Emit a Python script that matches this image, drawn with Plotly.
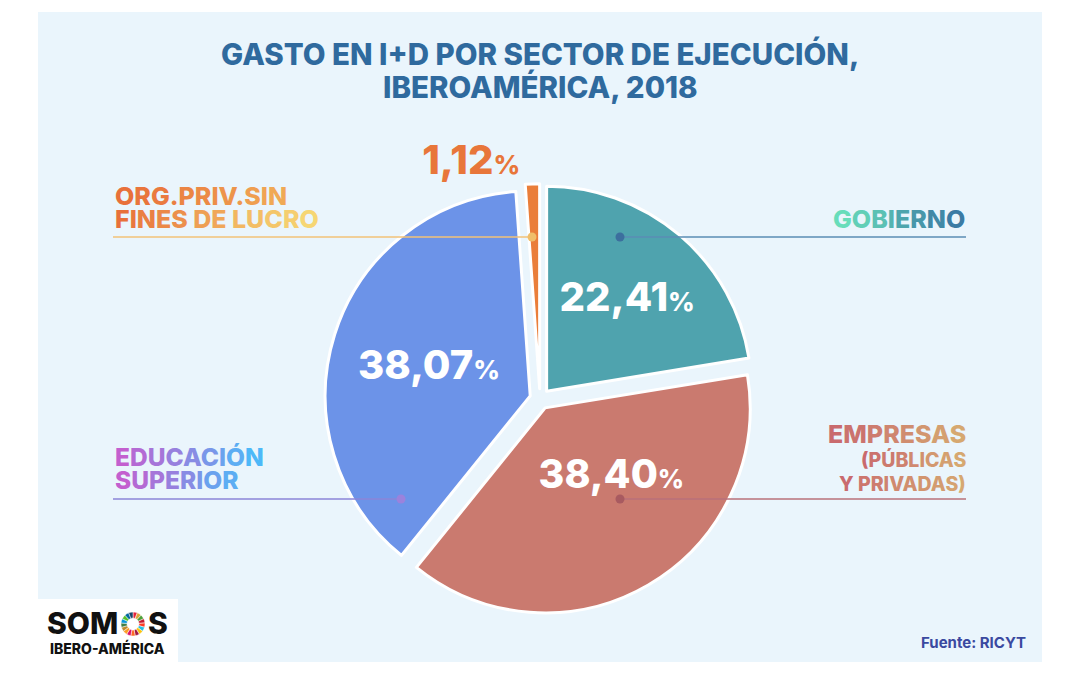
import plotly.graph_objects as go

# ---------------- data ----------------
sectors = ["Gobierno", "Empresas (públicas y privadas)", "Educación superior",
           "Org. priv. sin fines de lucro"]
shares = [22.41, 38.40, 38.07, 1.12]
slice_colors = ["#4FA3AE", "#CA7A6F", "#6C93E8", "#EA7E3A"]
text_pos = ["inside", "inside", "inside", "outside"]

sdg_values = [1] * 17
sdg_colors = ["#E5243B", "#DDA63A", "#4C9F38", "#C5192D", "#FF3A21", "#26BDE2",
              "#FCC30B", "#A21942", "#FD6925", "#DD1367", "#FD9D24", "#BF8B2E",
              "#3F7E44", "#0A97D9", "#56C02B", "#00689D", "#19486A"]

W, H = 1080, 675
OFF = 8  # page body margin offset
FONT = "Inter"
WT = 800


def px(x):
    return (x - OFF) / W


def py(y):
    return 1 - (y - OFF) / H


def hex2rgb(h):
    h = h.lstrip("#")
    return tuple(int(h[i:i + 2], 16) for i in (0, 2, 4))


def grad(s, c1, c2, n=None):
    n = n or len(s)
    a, b = hex2rgb(c1), hex2rgb(c2)
    out = []
    for i, ch in enumerate(s):
        t = i / max(n - 1, 1)
        col = "#%02X%02X%02X" % tuple(round(a[k] + (b[k] - a[k]) * t) for k in range(3))
        out.append(f"<span style='color:{col}'>{ch}</span>")
    return "".join(out)


def pct_text(v, small):
    return f"{v:.2f}".replace(".", ",") + f"<span style='font-size:{small}px'>%</span>"


labels_txt = [pct_text(v, 26) if p == "inside" else pct_text(v, 26)
              for v, p in zip(shares, text_pos)]
# lift the Empresas label a little inside its slice (blank second line)
labels_txt[1] = "\u00a0\u00a0\u00a0" + labels_txt[1] + "<br>\u00a0"

# pie box: centre (540, 399) in page pixels, height 430 px
pie_cx, pie_cy, pie_h = 540, 399, 430.5
dom_x = [px(pie_cx) - 0.4, px(pie_cx) + 0.4]
yc = py(pie_cy)
dom_y = [yc - pie_h / H / 2, yc + pie_h / H / 2]

fig = go.Figure()

fig.add_trace(go.Pie(
    values=shares, labels=sectors, sort=False, direction="clockwise", rotation=0,
    pull=[0.05] * 4,
    marker=dict(colors=slice_colors, line=dict(color="white", width=3)),
    text=labels_txt, texttemplate="%{text}", textposition=text_pos,
    insidetextorientation="horizontal",
    insidetextfont=dict(family=FONT, size=40, color="white", weight=WT),
    outsidetextfont=dict(family=FONT, size=40, color="#E8763A", weight=WT),
    domain=dict(x=dom_x, y=dom_y),
    showlegend=False, hoverinfo="skip",
))

# logo ring
fig.add_trace(go.Pie(
    values=sdg_values, sort=False, direction="clockwise", hole=0.5,
    marker=dict(colors=sdg_colors, line=dict(color="white", width=0.5)),
    textinfo="none", hoverinfo="skip", showlegend=False,
    domain=dict(x=[px(121), px(145)], y=[py(636), py(612)]),
))

shapes = [
    dict(type="rect", xref="paper", yref="paper", x0=px(38), x1=px(1042),
         y0=py(662), y1=py(12), fillcolor="#EAF5FC", line=dict(width=0), layer="below"),
    dict(type="rect", xref="paper", yref="paper", x0=px(38), x1=px(178),
         y0=py(662), y1=py(599), fillcolor="white", line=dict(width=0), layer="below"),
]

leaders = [
    # (x_from, x_to, y, line colour, dot x, dot colour)
    (620, 966, 237, "#5A8DB5", 620, "#3C6F9E"),
    (620, 966, 499, "#B8707A", 620, "#A85A60"),
    (113, 401, 499, "#8B84D8", 401, "#9B82DC"),
    (113, 532, 237, "#F2C279", 532, "#F0BE6A"),
]
for x0, x1, y, lc, dx, dc in leaders:
    shapes.append(dict(type="line", xref="paper", yref="paper", x0=px(x0), x1=px(x1),
                       y0=py(y), y1=py(y), line=dict(color=lc, width=1.5)))
    shapes.append(dict(type="circle", xref="paper", yref="paper",
                       x0=px(dx - 4.5), x1=px(dx + 4.5), y0=py(y + 4.5), y1=py(y - 4.5),
                       fillcolor=dc, line=dict(width=0)))

ann = []


def add(text, x, y, size, xanchor="center", color="#000000", weight=WT):
    ann.append(dict(text=text, x=px(x), y=py(y), xref="paper", yref="paper",
                    xanchor=xanchor, yanchor="middle", showarrow=False,
                    font=dict(family=FONT, size=size, color=color, weight=weight)))


TITLE_C = "#2F6A9E"
add("GASTO EN I+D POR SECTOR DE EJECUCIÓN,", 540, 54, 29.5, color=TITLE_C)
add("IBEROAMÉRICA, 2018", 540, 87, 29.5, color=TITLE_C)

add(grad("GOBIERNO", "#68DDBA", "#3B7BA4"), 967, 219, 25, xanchor="right")

add(grad("EMPRESAS", "#C96A6E", "#D6A870"), 968, 434, 25, xanchor="right")
add(grad("(PÚBLICAS", "#C96A6E", "#D6A870"), 968, 459, 19.5, xanchor="right")
add(grad("Y PRIVADAS)", "#C96A6E", "#D6A870"), 968, 484, 19.5, xanchor="right")

add(grad("EDUCACIÓN", "#C35FCF", "#4DB8F8"), 113, 457, 24.5, xanchor="left")
add(grad("SUPERIOR", "#C35FCF", "#4DB8F8", 9), 113, 480, 24.5, xanchor="left")

add(grad("ORG.PRIV.SIN", "#E8703A", "#F2B35A", 14), 113, 196, 25, xanchor="left")
add(grad("FINES DE LUCRO", "#E8703A", "#F6D673"), 113, 219, 25, xanchor="left")

add("Fuente: RICYT", 1028, 642, 15, xanchor="right", color="#3A49A0", weight=700)

# logo text
add("SOM", 120, 623, 30, xanchor="right", color="#111111")
add("S", 146, 623, 30, xanchor="left", color="#111111")
add("IBERO-AMÉRICA", 107, 648, 14, xanchor="center", color="#111111")

fig.update_layout(
    width=W, height=H,
    margin=dict(l=0, r=0, t=0, b=0, pad=0, autoexpand=False),
    paper_bgcolor="white",
    shapes=shapes, annotations=ann,
    font=dict(family=FONT),
)

fig.write_html("out.html")
